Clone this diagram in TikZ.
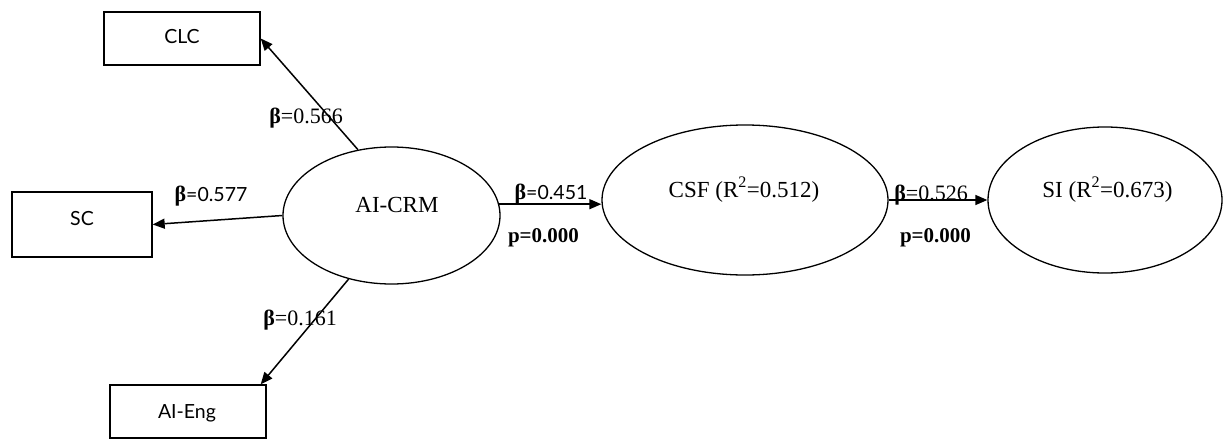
\documentclass[tikz,border=0pt]{standalone}
\usepackage{fontspec}
\setmainfont{Liberation Serif}
\newfontfamily\lbsans{Lato}
\usetikzlibrary{arrows.meta,shapes.geometric,calc}
\begin{document}
\begin{tikzpicture}[x=1pt,y=-1pt,
  box/.style={draw, line width=1.4pt, rectangle, inner sep=0pt},
  latent/.style={draw, line width=1.3pt, ellipse, inner sep=0pt},
  serif/.style={font=\fontsize{23}{26}\selectfont, inner sep=0pt, anchor=base},
  sanstxt/.style={font=\lbsans\fontsize{19.5}{22}\selectfont, inner sep=0pt, anchor=base},
  coef/.style={font=\fontsize{22}{25}\selectfont, inner sep=0pt, anchor=base},
  pval/.style={font=\bfseries\fontsize{21}{24}\selectfont, inner sep=0pt, anchor=base},
  pathline/.style={line width=1.5pt, -{Triangle[length=12pt,width=10pt]}},
]
\newcommand{\sansnum}[1]{{\lbsans\fontsize{19.5}{22}\selectfont #1}}
\useasboundingbox (0,0) rectangle (1225,439);

% indicator boxes
\node[box, minimum width=156pt, minimum height=53pt] (clc) at (182,38.5) {};
\node[box, minimum width=140pt, minimum height=65pt] (sc)  at (82,224.5) {};
\node[box, minimum width=156pt, minimum height=53pt] (eng) at (188,411.5) {};
\node[sanstxt] (clct) at (182,43)  {CLC};
\node[sanstxt] (sct)  at (82,225)  {SC};
\node[sanstxt] (engt) at (187,418) {AI-Eng};

% latent constructs
\node[latent, minimum width=217pt, minimum height=137pt] (crm) at (391.5,215.5) {};
\node[latent, minimum width=286pt, minimum height=150pt] (csf) at (745,200) {};
\node[latent, minimum width=234pt, minimum height=146pt] (si)  at (1105,200) {};
\node[serif] (crmt) at (397,212)    {AI-CRM};
\node[serif] (csft) at (744,197)    {CSF (R\textsuperscript{2}=0.512)};
\node[serif] (sit)  at (1107.5,197) {SI (R\textsuperscript{2}=0.673)};

% structural paths
\draw[pathline] (crm.117) -- (clc.east);
\draw[pathline] (crm.west) -- (sc.east);
\draw[pathline] (crm.236) -- ([xshift=-6pt]eng.north east);
\draw[pathline] (crm.6.7) -- (crm.6.7 -| csf.west);
\draw[pathline] (csf.east) -- (si.west);

% path coefficients
\node[coef] (b1) at (306,123) {{\bfseries β}=0.566};
\node[coef] (b2) at (211,201) {{\bfseries β}\sansnum{=0.577}};
\node[coef] (b3) at (300,325) {{\bfseries β}=0.161};
\node[coef] (b4) at (551,199) {{\bfseries β}\sansnum{=0.451}};
\node[pval] (p4) at (543.5,242) {p=0.000};
\node[coef] (b5) at (931,200) {{\bfseries β}=0.526};
\node[pval] (p5) at (935.5,242) {p=0.000};
\end{tikzpicture}
\end{document}
